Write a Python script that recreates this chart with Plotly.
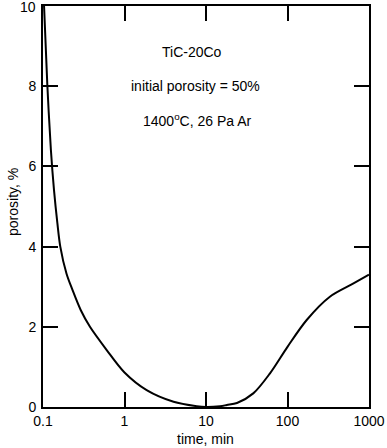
import plotly.graph_objects as go

time_min = [0.103, 0.113, 0.125, 0.1365, 0.15, 0.163, 0.194, 0.23, 0.29, 0.377, 0.605, 1.0, 1.87, 4.0, 7.7, 10, 14.9, 18, 24, 38, 61, 100, 172, 331, 645, 1000]
porosity = [10, 8.03, 6.41, 5.41, 4.59, 4.0, 3.33, 2.92, 2.42, 2.0, 1.42, 0.86, 0.42, 0.13, 0.02, 0.0, 0.02, 0.05, 0.1, 0.34, 0.84, 1.5, 2.17, 2.75, 3.08, 3.3]

x_ticks = [0.1, 1, 10, 100, 1000]
x_ticktext = ["0.1", "1", "10", "100", "1000"]
y_ticks = [0, 2, 4, 6, 8, 10]
y_ticktext = ["0", "2", "4", "6", "8", "10"]

notes = ["TiC-20Co", "initial porosity = 50%", "1400<sup>o</sup>C, 26 Pa Ar"]
x_title = "time, min"
y_title = "porosity, %"

FONT = "Liberation Sans, Arial, sans-serif"

fig = go.Figure()
fig.add_trace(go.Scatter(
    x=time_min, y=porosity, mode="lines",
    line=dict(color="black", width=2, shape="spline", smoothing=0.9),
    showlegend=False, hoverinfo="skip",
))

L, R, T, B = 43, 18, 6, 41
W, H = 387, 448
pw, ph = W - L - R, H - T - B

def paper_xy(px, py):
    return (px - L) / pw, (H - B - py) / ph

for txt, (px, py) in zip(notes, [(192, 52), (195, 86), (197, 120)]):
    xp, yp = paper_xy(px, py)
    fig.add_annotation(x=xp, y=yp, xref="paper", yref="paper", text=txt,
                       showarrow=False, xanchor="center", yanchor="middle",
                       font=dict(family=FONT, size=14, color="black"))

xp, yp = paper_xy(205, 439)
fig.add_annotation(x=xp, y=yp, xref="paper", yref="paper", text=x_title,
                   showarrow=False, xanchor="center", yanchor="middle",
                   font=dict(family=FONT, size=14, color="black"))
xp, yp = paper_xy(13, 202)
fig.add_annotation(x=xp, y=yp, xref="paper", yref="paper", text=y_title,
                   showarrow=False, xanchor="center", yanchor="middle", textangle=-90,
                   font=dict(family=FONT, size=14, color="black"))

# top y tick label drawn as annotation so it stays inside the page
xp, _ = paper_xy(37, 0)
fig.add_annotation(x=xp, y=y_ticks[-1], xref="paper", yref="y", text=y_ticktext[-1],
                   showarrow=False, xanchor="right", yanchor="top", yshift=8,
                   borderpad=0, font=dict(family=FONT, size=14, color="black"))

fig.update_layout(
    width=W, height=H,
    margin=dict(l=L, r=R, t=T, b=B, pad=0, autoexpand=False),
    paper_bgcolor="white", plot_bgcolor="white",
    font=dict(family=FONT, size=14, color="black"),
)
fig.update_xaxes(
    type="log", range=[-1, 3], tickvals=x_ticks, ticktext=x_ticktext,
    ticks="inside", ticklen=15, tickwidth=2, tickcolor="black",
    showline=True, linecolor="black", linewidth=2, mirror="ticks",
    showgrid=False, zeroline=False, automargin=False,
    tickfont=dict(family=FONT, size=14), ticklabelstandoff=0,
    ticklabeloverflow="allow",
)
fig.update_yaxes(
    range=[0, 10], tickvals=y_ticks, ticktext=y_ticktext[:-1] + [""],
    ticks="inside", ticklen=15, tickwidth=2, tickcolor="black",
    showline=True, linecolor="black", linewidth=2, mirror="ticks",
    showgrid=False, zeroline=False, automargin=False,
    tickfont=dict(family=FONT, size=14), ticklabelstandoff=2,
    ticklabeloverflow="allow",
)

fig.write_html("out.html", config={"displayModeBar": False},
               post_script="document.body.style.margin='0';document.body.style.padding='0';")
